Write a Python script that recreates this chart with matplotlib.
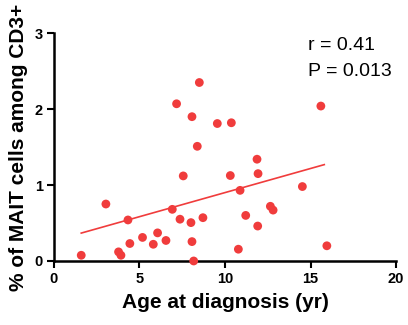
import numpy as np
import matplotlib
matplotlib.use('Agg')
import matplotlib.pyplot as plt

# Age at diagnosis (yr) and % MAIT cells among CD3+
age = [1.6, 3.04, 3.78, 3.92, 4.33, 4.44, 5.18, 5.81, 6.06, 6.55,
       6.92, 7.17, 7.37, 7.56, 8.01, 8.07, 8.17, 8.71, 8.5, 8.07,
       9.55, 8.38, 15.6, 10.37, 11.87, 10.31, 11.93, 10.88, 14.52, 11.21,
       12.65, 12.81, 11.91, 10.78, 15.95]
mait = [0.075, 0.75, 0.12, 0.075, 0.54, 0.23, 0.31, 0.22, 0.37, 0.27,
        0.68, 2.07, 0.55, 1.12, 0.505, 0.255, 0.0, 0.57, 2.35, 1.9,
        1.81, 1.51, 2.04, 1.82, 1.34, 1.125, 1.15, 0.93, 0.98, 0.6,
        0.72, 0.67, 0.46, 0.155, 0.2]

xticks = [0, 5, 10, 15, 20]
yticks = [0, 1, 2, 3]

red = '#f03c3c'
plt.rcParams['font.family'] = ['Liberation Sans', 'DejaVu Sans']

fig = plt.figure(figsize=(4.08, 3.25), dpi=100)
ax = fig.add_axes([0.132, 0.197, 0.839, 0.701])

ax.scatter(age, mait, s=40, color=red, edgecolors='none', clip_on=False, zorder=3)

# linear fit
slope, intercept = np.polyfit(age, mait, 1)
xf = np.array([min(age), 15.8])
ax.plot(xf, slope * xf + intercept, color=red, lw=1.2)

ax.set_xlim(0, 20)
ax.set_ylim(0, 3)
ax.set_xticks(xticks)
ax.set_yticks(yticks)
for lbl in ax.get_xticklabels() + ax.get_yticklabels():
    lbl.set_fontweight('bold')
ax.tick_params(width=1.5, length=5, labelsize=10.5, pad=3)
for s in ['top', 'right']:
    ax.spines[s].set_visible(False)
for s in ['left', 'bottom']:
    ax.spines[s].set_linewidth(1.8)

ax.set_xlabel('Age at diagnosis (yr)', fontsize=15, fontweight='bold', labelpad=5)
ax.set_ylabel('% of MAIT cells among CD3+', fontsize=15, fontweight='bold', labelpad=5)

ax.text(14.85, 2.78, 'r = 0.41', fontsize=14, va='baseline')
ax.text(14.85, 2.43, 'P = 0.013', fontsize=14, va='baseline')

fig.savefig('out.png', dpi=100)
